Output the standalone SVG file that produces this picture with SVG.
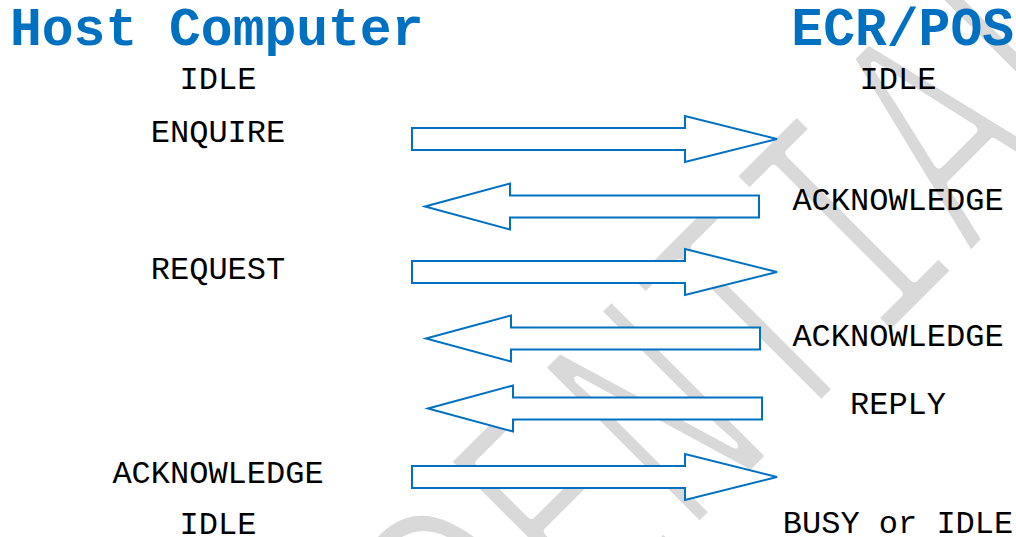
<svg xmlns="http://www.w3.org/2000/svg" xmlns:xlink="http://www.w3.org/1999/xlink" width="1016" height="537" viewBox="0 0 1016 537">
  <style>
    .wm { font-family: "Liberation Mono", "Courier New", monospace; font-size: 222px; fill: #d9d9d9; stroke: #ffffff; stroke-width: 9px; stroke-linejoin: round; }
    .title { font-family: "Liberation Mono", "Courier New", monospace; font-size: 53px; font-weight: bold; fill: #0070C0; }
    .lbl { font-family: "Liberation Mono", "Courier New", monospace; font-size: 32px; fill: #000000; text-anchor: middle; }
    .arrow { fill: #ffffff; stroke: #0070C0; stroke-width: 2; stroke-linejoin: miter; }
  </style>
  <defs>
    <path id="rightArrow" d="M0,-11 H273 V-23 L365,0 L273,23 V11 H0 Z"/>
    <path id="leftArrow" d="M0,0 L85,-23 V-11 H334 V11 H85 V23 Z"/>
  </defs>
  <rect width="1016" height="537" fill="#ffffff"/>
  <g id="watermark">
    <text class="wm" vector-effect="non-scaling-stroke" transform="translate(29.3,1198.4) rotate(-45) scale(1,1.55)" x="0" y="0">CONFIDENTIAL</text>
  </g>
  <g id="connectors">
    <use xlink:href="#rightArrow" class="arrow" transform="translate(412,139)"/>
    <use xlink:href="#leftArrow" class="arrow" transform="translate(425,206.5)"/>
    <use xlink:href="#rightArrow" class="arrow" transform="translate(412,272)"/>
    <use xlink:href="#leftArrow" class="arrow" transform="translate(426,338.5)"/>
    <use xlink:href="#leftArrow" class="arrow" transform="translate(428,408.5)"/>
    <use xlink:href="#rightArrow" class="arrow" transform="translate(412,477)"/>
  </g>
  <g id="host-title"><text class="title" x="10" y="45">Host Computer</text></g>
  <g id="ecr-title"><text class="title" x="1014" y="45" text-anchor="end">ECR/POS</text></g>
  <g id="host-idle-1"><text class="lbl" x="218" y="89">IDLE</text></g>
  <g id="host-enquire"><text class="lbl" x="218" y="142">ENQUIRE</text></g>
  <g id="host-request"><text class="lbl" x="218" y="279">REQUEST</text></g>
  <g id="host-acknowledge"><text class="lbl" x="218" y="483">ACKNOWLEDGE</text></g>
  <g id="host-idle-2"><text class="lbl" x="218" y="534">IDLE</text></g>
  <g id="ecr-idle"><text class="lbl" x="898" y="89">IDLE</text></g>
  <g id="ecr-acknowledge-1"><text class="lbl" x="898" y="210">ACKNOWLEDGE</text></g>
  <g id="ecr-acknowledge-2"><text class="lbl" x="898" y="346">ACKNOWLEDGE</text></g>
  <g id="ecr-reply"><text class="lbl" x="898" y="414">REPLY</text></g>
  <g id="ecr-busy-idle"><text class="lbl" x="898" y="533">BUSY or IDLE</text></g>
</svg>
